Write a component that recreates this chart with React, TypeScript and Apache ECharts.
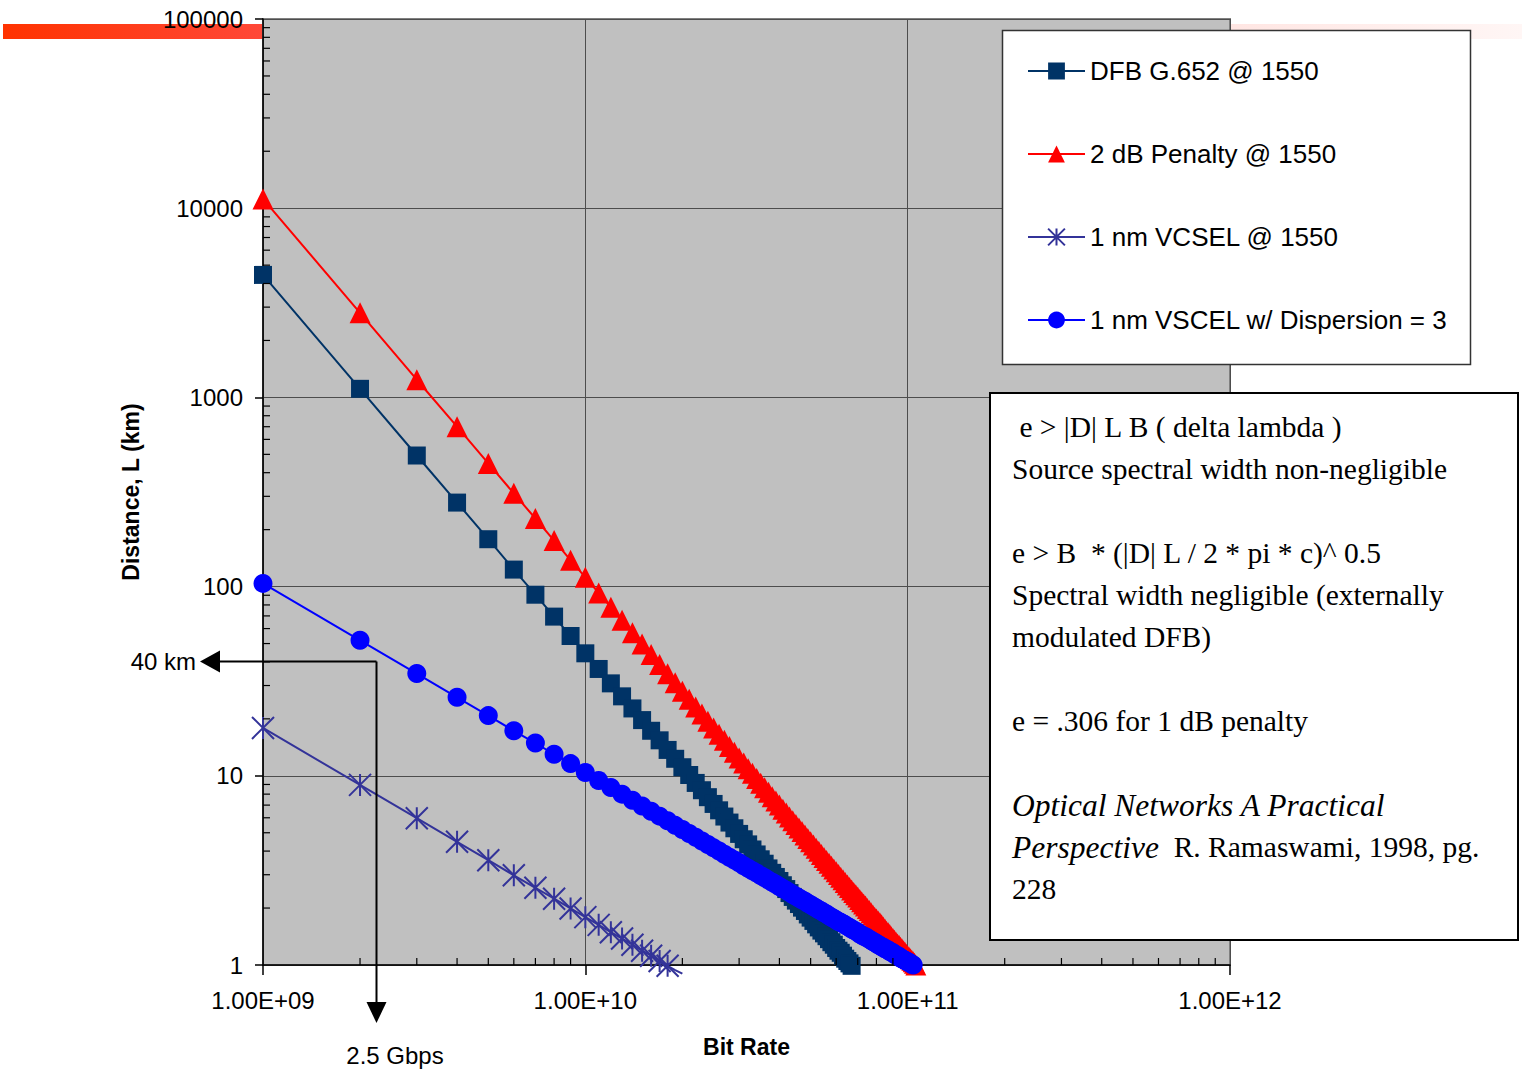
import React, { useEffect, useRef } from 'react';
import * as echarts from 'echarts';

// Bit rates in Gbps (x values of the data points)
const RATE_GBPS = [
  1, 2, 3, 4, 5, 6, 7, 8, 9, 10, 11, 12, 13, 14, 15, 16, 17, 18, 19, 20,
  21, 22, 23, 24, 25, 26, 27, 28, 29, 30, 31, 32, 33, 34, 35, 36, 37, 38, 39, 40,
  41, 42, 43, 44, 45, 46, 47, 48, 49, 50, 51, 52, 53, 54, 55, 56, 57, 58, 59, 60,
  61, 62, 63, 64, 65, 66, 67, 68, 69, 70, 71, 72, 73, 74, 75, 76, 77, 78, 79, 80,
  81, 82, 83, 84, 85, 86, 87, 88, 89, 90, 91, 92, 93, 94, 95, 96, 97, 98, 99, 100,
  101, 102, 103, 104, 105, 106,
];
const BPS_PER_GBPS = 1e9;

// Distance (km)
const DFB_KM = [
  4440, 1110, 493, 278, 178, 123, 90.6, 69.4, 54.8, 44.4,
  36.7, 30.8, 26.3, 22.7, 19.7, 17.3, 15.4, 13.7, 12.3, 11.1,
  10.1, 9.17, 8.39, 7.71, 7.1, 6.57, 6.09, 5.66, 5.28, 4.93,
  4.62, 4.34, 4.08, 3.84, 3.62, 3.43, 3.24, 3.07, 2.92, 2.78,
  2.64, 2.52, 2.4, 2.29, 2.19, 2.1, 2.01, 1.93, 1.85, 1.78,
  1.71, 1.64, 1.58, 1.52, 1.47, 1.42, 1.37, 1.32, 1.28, 1.23,
  1.19, 1.16, 1.12, 1.08, 1.05, 1.02, 0.99,
];
const PENALTY_KM = [
  11200, 2800, 1240, 700, 448, 311, 229, 175, 138, 112,
  92.6, 77.8, 66.3, 57.1, 49.8, 43.8, 38.8, 34.6, 31.0, 28.0,
  25.4, 23.1, 21.2, 19.4, 17.9, 16.6, 15.4, 14.3, 13.3, 12.4,
  11.7, 10.9, 10.3, 9.69, 9.14, 8.64, 8.18, 7.76, 7.36, 7.0,
  6.66, 6.35, 6.06, 5.79, 5.53, 5.29, 5.07, 4.86, 4.66, 4.48,
  4.31, 4.14, 3.99, 3.84, 3.7, 3.57, 3.45, 3.33, 3.22, 3.11,
  3.01, 2.91, 2.82, 2.73, 2.65, 2.57, 2.49, 2.42, 2.35, 2.29,
  2.22, 2.16, 2.1, 2.05, 1.99, 1.94, 1.89, 1.84, 1.79, 1.75,
  1.71, 1.67, 1.63, 1.59, 1.55, 1.51, 1.48, 1.45, 1.41, 1.38,
  1.35, 1.32, 1.29, 1.27, 1.24, 1.22, 1.19, 1.17, 1.14, 1.12,
  1.1, 1.08, 1.06, 1.04, 1.02, 1.0,
];
const VCSEL_KM = [
  17.9, 8.95, 5.97, 4.48, 3.58, 2.98, 2.56, 2.24, 1.99, 1.79,
  1.63, 1.49, 1.38, 1.28, 1.19, 1.12, 1.05, 0.99, 0.94, 0.9,
];
const VCSEL_MARKED_POINTS = 18;
const VSCEL_DISP_KM = [
  104, 52.0, 34.7, 26.0, 20.8, 17.3, 14.9, 13.0, 11.6, 10.4,
  9.45, 8.67, 8.0, 7.43, 6.93, 6.5, 6.12, 5.78, 5.47, 5.2,
  4.95, 4.73, 4.52, 4.33, 4.16, 4.0, 3.85, 3.71, 3.59, 3.47,
  3.35, 3.25, 3.15, 3.06, 2.97, 2.89, 2.81, 2.74, 2.67, 2.6,
  2.54, 2.48, 2.42, 2.36, 2.31, 2.26, 2.21, 2.17, 2.12, 2.08,
  2.04, 2.0, 1.96, 1.93, 1.89, 1.86, 1.82, 1.79, 1.76, 1.73,
  1.7, 1.68, 1.65, 1.63, 1.6, 1.58, 1.55, 1.53, 1.51, 1.49,
  1.46, 1.44, 1.42, 1.41, 1.39, 1.37, 1.35, 1.33, 1.32, 1.3,
  1.28, 1.27, 1.25, 1.24, 1.22, 1.21, 1.2, 1.18, 1.17, 1.16,
  1.14, 1.13, 1.12, 1.11, 1.09, 1.08, 1.07, 1.06, 1.05, 1.04,
  1.03, 1.02, 1.01, 1.0,
];

const SERIES_NAMES = [
  'DFB G.652 @ 1550',
  '2 dB Penalty @ 1550',
  '1 nm VCSEL @ 1550',
  '1 nm VSCEL w/ Dispersion = 3',
];

// Minor tick values on each log axis
const X_MINOR_BPS = [
  2e9, 3e9, 4e9, 5e9, 6e9, 7e9, 8e9, 9e9,
  2e10, 3e10, 4e10, 5e10, 6e10, 7e10, 8e10, 9e10,
  2e11, 3e11, 4e11, 5e11, 6e11, 7e11, 8e11, 9e11,
];
const Y_MINOR_KM = [
  2, 3, 4, 5, 6, 7, 8, 9,
  20, 30, 40, 50, 60, 70, 80, 90,
  200, 300, 400, 500, 600, 700, 800, 900,
  2000, 3000, 4000, 5000, 6000, 7000, 8000, 9000,
  20000, 30000, 40000, 50000, 60000, 70000, 80000, 90000,
];

// Annotation (arrow) values
const ANNOT_RATE_BPS = 2.24e9;
const ANNOT_KM = 40.5;
const ANNOT_KM_LABEL = '40 km';
const ANNOT_RATE_LABEL = '2.5 Gbps';

const NOTE_LINES: string[] = [
  ' e > |D| L B ( delta lambda )',
  'Source spectral width non-negligible',
  '',
  'e > B  * (|D| L / 2 * pi * c)^ 0.5',
  'Spectral width negligible (externally',
  'modulated DFB)',
  '',
  'e = .306 for 1 dB penalty',
  '',
  '{i|Optical Networks A Practical}',
  '{i|Perspective}  R. Ramaswami, 1998, pg.',
  '228',
];

const SANS = '"Liberation Sans", Arial, sans-serif';
const SERIF = '"Liberation Serif", "Times New Roman", serif';

const toPairs = (arr: number[]) => arr.map((km, i) => [RATE_GBPS[i] * BPS_PER_GBPS, km]);

export default function App() {
  const ref = useRef<HTMLDivElement>(null);
  useEffect(() => {
    const chart = echarts.init(ref.current!, null, { renderer: 'svg' });
    const tickData: number[][] = [
      ...X_MINOR_BPS.map((v) => [v, 1, 0]),
      ...Y_MINOR_KM.map((v) => [1e9, v, 1]),
    ];
    const vcselData = toPairs(VCSEL_KM).map((p, i) =>
      i < VCSEL_MARKED_POINTS ? { value: p } : { value: p, symbol: 'none' }
    );
    const option: any = {
      animation: false,
      textStyle: { fontFamily: SANS },
      grid: {
        left: 263,
        right: 292,
        top: 19,
        bottom: 114,
        containLabel: false,
        show: true,
        backgroundColor: '#c0c0c0',
        borderColor: '#808080',
        borderWidth: 2,
        z: 0,
      },
      legend: {
        data: SERIES_NAMES,
        orient: 'vertical',
        left: 1022,
        top: 53,
        itemWidth: 57,
        itemHeight: 21,
        itemGap: 57,
        selectedMode: false,
        z: 6,
        textStyle: { fontSize: 26, color: '#000', fontFamily: SANS },
      },
      xAxis: {
        type: 'log',
        logBase: 10,
        min: 1e9,
        max: 1e12,
        name: 'Bit Rate',
        nameLocation: 'middle',
        nameGap: 70,
        nameTextStyle: { fontSize: 23, fontWeight: 'bold', color: '#000' },
        axisLine: { show: true, lineStyle: { color: '#000', width: 1.5 } },
        axisTick: { show: true, length: 10, lineStyle: { color: '#000', width: 1.5 } },
        axisLabel: {
          fontSize: 24,
          color: '#000',
          margin: 23,
          formatter: (v: number) => {
            const e = Math.round(Math.log10(v));
            return '1.00E+' + (e < 10 ? '0' : '') + e;
          },
        },
        splitLine: { show: true, lineStyle: { color: '#4d4d4d', width: 1 } },
      },
      yAxis: {
        type: 'log',
        logBase: 10,
        min: 1,
        max: 100000,
        name: 'Distance, L (km)',
        nameLocation: 'middle',
        nameGap: 121,
        nameTextStyle: { fontSize: 23, fontWeight: 'bold', color: '#000' },
        axisLine: { show: true, lineStyle: { color: '#000', width: 1.5 } },
        axisTick: { show: true, length: 8, lineStyle: { color: '#000', width: 1.5 } },
        axisLabel: {
          fontSize: 24,
          color: '#000',
          margin: 20,
          formatter: (v: number) => String(Math.round(v)),
        },
        splitLine: { show: true, lineStyle: { color: '#4d4d4d', width: 1 } },
      },
      series: [
        {
          type: 'custom',
          name: 'minorTicks',
          silent: true,
          z: 3,
          clip: false,
          data: tickData,
          renderItem: (params: any, api: any) => {
            const p = api.coord([api.value(0), api.value(1)]);
            const horiz = api.value(2) === 1;
            return {
              type: 'line',
              shape: horiz
                ? { x1: p[0], y1: p[1], x2: p[0] + 7, y2: p[1] }
                : { x1: p[0], y1: p[1], x2: p[0], y2: p[1] - 7 },
              style: { stroke: '#000', lineWidth: 1.2 },
            };
          },
        },
        {
          type: 'line',
          name: SERIES_NAMES[0],
          data: toPairs(DFB_KM),
          clip: false,
          symbol: 'rect',
          symbolSize: 18,
          color: '#003366',
          lineStyle: { color: '#003366', width: 2 },
          itemStyle: { color: '#003366' },
          z: 2,
        },
        {
          type: 'line',
          name: SERIES_NAMES[1],
          data: toPairs(PENALTY_KM),
          clip: false,
          symbol: 'triangle',
          symbolSize: 21,
          color: '#ff0000',
          lineStyle: { color: '#ff0000', width: 2 },
          itemStyle: { color: '#ff0000' },
          z: 2,
        },
        {
          type: 'line',
          name: SERIES_NAMES[2],
          data: vcselData,
          clip: false,
          symbol: 'path://M0,0L20,20M20,0L0,20M10,0L10,20',
          symbolSize: 22,
          color: '#333399',
          lineStyle: { color: '#333399', width: 2 },
          itemStyle: { color: '#333399', borderColor: '#333399', borderWidth: 2 },
          z: 2,
        },
        {
          type: 'line',
          name: SERIES_NAMES[3],
          data: toPairs(VSCEL_DISP_KM),
          clip: false,
          symbol: 'circle',
          symbolSize: 19,
          color: '#0000ff',
          lineStyle: { color: '#0000ff', width: 2 },
          itemStyle: { color: '#0000ff' },
          z: 2,
        },
      ],
    };
    chart.setOption(option);

    const p = chart.convertToPixel({ xAxisIndex: 0, yAxisIndex: 0 }, [ANNOT_RATE_BPS, ANNOT_KM]) as number[];
    const ax = Math.round(p[0]) + 0.5;
    const ay = Math.round(p[1]) + 0.5;

    const noteTexts = NOTE_LINES.map((line, i) => ({
      type: 'text',
      z: 5,
      x: 1012,
      y: 427 + i * 42,
      style: {
        text: line,
        fill: '#000',
        fontSize: 29.5,
        fontFamily: SERIF,
        verticalAlign: 'middle',
        align: 'left',
        rich: {
          i: { fontStyle: 'italic', fontSize: 31.5, fontFamily: SERIF, fill: '#000' },
        },
      },
    }));

    chart.setOption({
      graphic: [
        {
          type: 'rect',
          z: -10,
          silent: true,
          shape: { x: 3, y: 24, width: 1519, height: 15 },
          style: {
            fill: new echarts.graphic.LinearGradient(0, 0, 1, 0, [
              { offset: 0, color: '#ff3300' },
              { offset: 0.172, color: '#ff4838' },
              { offset: 0.5, color: '#ffa090' },
              { offset: 0.81, color: '#ffe6e3' },
              { offset: 1, color: '#fff6f5' },
            ]),
          },
        },
        {
          type: 'rect',
          z: 5,
          silent: true,
          shape: { x: 1002.5, y: 30.5, width: 468, height: 334 },
          style: { fill: '#fff', stroke: '#333', lineWidth: 1.5 },
        },
        {
          type: 'rect',
          z: 5,
          silent: true,
          shape: { x: 990, y: 393, width: 528, height: 547 },
          style: { fill: '#fff', stroke: '#000', lineWidth: 2 },
        },
        ...noteTexts,
        {
          type: 'line',
          z: 7,
          silent: true,
          shape: { x1: 219, y1: ay, x2: ax, y2: ay },
          style: { stroke: '#000', lineWidth: 2 },
        },
        {
          type: 'line',
          z: 7,
          silent: true,
          shape: { x1: ax, y1: ay, x2: ax, y2: 1004 },
          style: { stroke: '#000', lineWidth: 2 },
        },
        {
          type: 'polygon',
          z: 7,
          silent: true,
          shape: { points: [[200, ay], [220, ay - 11], [220, ay + 11]] },
          style: { fill: '#000' },
        },
        {
          type: 'polygon',
          z: 7,
          silent: true,
          shape: { points: [[ax, 1023], [ax - 10, 1002], [ax + 10, 1002]] },
          style: { fill: '#000' },
        },
        {
          type: 'text',
          z: 7,
          x: 196,
          y: ay,
          style: {
            text: ANNOT_KM_LABEL,
            fill: '#000',
            fontSize: 24,
            fontFamily: SANS,
            align: 'right',
            verticalAlign: 'middle',
          },
        },
        {
          type: 'text',
          z: 7,
          x: 395,
          y: 1055,
          style: {
            text: ANNOT_RATE_LABEL,
            fill: '#000',
            fontSize: 24,
            fontFamily: SANS,
            align: 'center',
            verticalAlign: 'middle',
          },
        },
      ],
    });

    return () => chart.dispose();
  }, []);
  return (
    <div
      ref={ref}
      style={{ position: 'absolute', left: 0, top: 0, width: 1522, height: 1079 }}
    />
  );
}
